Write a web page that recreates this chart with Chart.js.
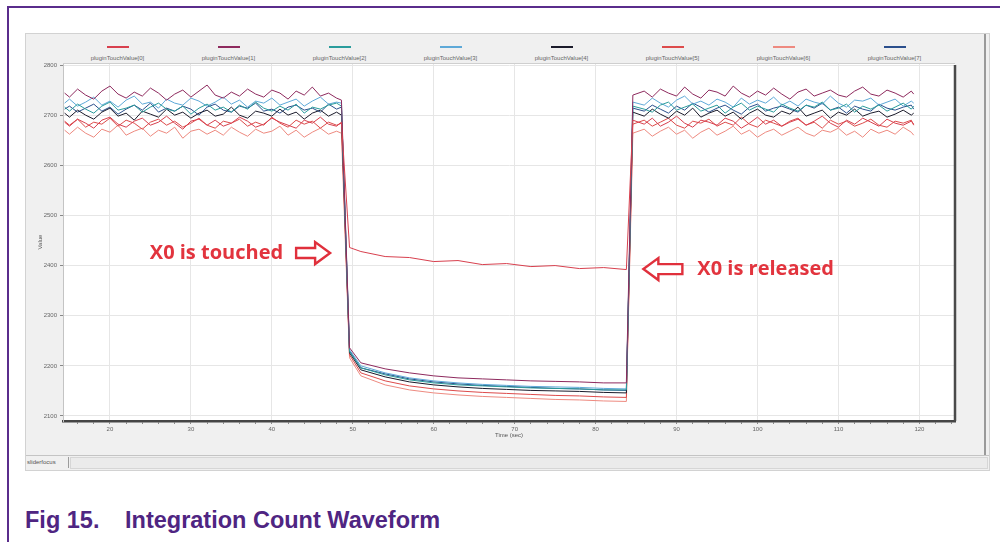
<!DOCTYPE html>
<html>
<head>
<meta charset="utf-8">
<script src="https://cdn.jsdelivr.net/npm/chart.js@4.4.1/dist/chart.umd.min.js"></script>
<style>
  html, body { margin:0; padding:0; background:#fff; width:1000px; height:542px; overflow:hidden; }
  body { position:relative; font-family:"Liberation Sans", Arial, sans-serif; }
  .frame-top  { position:absolute; left:7px; top:6px; width:993px; height:2px; background:#5a2d8c; }
  .frame-left { position:absolute; left:7px; top:6px; width:2px; height:536px; background:#5a2d8c; }
  .panel { position:absolute; left:25px; top:33px; width:963px; height:436px; background:#f0f0f0; border:1px solid #d2d2d2; }
  .panel-edge { position:absolute; left:984px; top:34px; width:2px; height:421px; background:#9a9a9a; }
  #chartBox { position:absolute; left:25px; top:33px; width:965px; height:422px; }
  .legend-item { position:absolute; top:46px; width:111px; text-align:center; font-size:6px; color:#666; }
  .legend-item i { display:block; width:22px; height:2px; margin:0 auto 7px; }
  .tabline { position:absolute; left:26px; top:455px; width:963px; height:1px; background:#c4c4c4; }
  .tab { position:absolute; left:27px; top:457px; width:41px; height:11px; font-size:6px; line-height:11px; color:#555; border-right:1px solid #9c9c9c; }
  .scrollbar { position:absolute; left:70px; top:457px; width:916px; height:10px; background:#ebebeb; border:1px solid #d6d6d6; }
  .caption { position:absolute; top:507px; font-weight:bold; font-size:23.5px; color:#4f2582; }
</style>
</head>
<body>
<div class="frame-top"></div>
<div class="frame-left"></div>
<div class="panel"></div>
<div class="panel-edge"></div>
<div id="legend"></div>
<div id="chartBox"><canvas id="waveChart"></canvas></div>
<div class="tabline"></div>
<div class="tab">sliderfocus</div>
<div class="scrollbar"></div>
<div class="caption" style="left:25px">Fig 15.</div>
<div class="caption" style="left:125px">Integration Count Waveform</div>

<script>
// ─── RAW DATA ─────────────────────────────────────────────────
const seriesNames = [
    'pluginTouchValue[0]', 'pluginTouchValue[1]', 'pluginTouchValue[2]', 'pluginTouchValue[3]',
    'pluginTouchValue[4]', 'pluginTouchValue[5]', 'pluginTouchValue[6]', 'pluginTouchValue[7]'
];
const seriesColors = ['#d8404e', '#8e2a5e', '#2a9c9c', '#5ea9d8', '#1b1b2b', '#dd4b4b', '#ee8a80', '#2b4f8c'];

// time (sec) of each sample: idle, touched, idle again
const times = [14.4, 15, 16, 17, 18, 19, 20, 21, 22, 23, 24, 25, 26, 27, 28, 29, 30, 31, 32, 33, 34, 35,
               36, 37, 38, 39, 40, 41, 42, 43, 44, 45, 46, 47, 48, 48.6,
               49.6, 51, 54, 57, 60, 63, 66, 69, 72, 75, 78, 81, 83.8,
               84.6, 86, 87, 88, 89, 90, 91, 92, 93, 94, 95, 96, 97, 98, 99, 100, 101, 102, 103, 104, 105,
               106, 107, 108, 109, 110, 111, 112, 113, 114, 115, 116, 117, 118, 119, 119.3];

const ch0 = [2686, 2678, 2692, 2684, 2674, 2690, 2696, 2682, 2676, 2688, 2694, 2680, 2686, 2698, 2684, 2672, 2688, 2692,
             2680, 2690, 2678, 2684, 2696, 2688, 2676, 2682, 2694, 2686, 2680, 2674, 2690, 2684, 2696, 2682, 2678, 2686,
             2436, 2428, 2418, 2416, 2408, 2410, 2402, 2404, 2398, 2400, 2394, 2396, 2392,
             2690, 2682, 2694, 2678, 2686, 2698, 2684, 2676, 2690, 2686, 2680, 2694, 2688, 2674, 2684, 2696, 2682, 2690,
             2678, 2686, 2692, 2680, 2688, 2698, 2684, 2676, 2690, 2682, 2694, 2686, 2678, 2692, 2684, 2680, 2688, 2682];
const ch1 = [2744, 2736, 2752, 2740, 2732, 2748, 2758, 2742, 2734, 2746, 2738, 2754, 2744, 2730, 2742, 2750, 2736, 2748,
             2760, 2740, 2734, 2746, 2738, 2752, 2742, 2736, 2750, 2744, 2732, 2748, 2740, 2756, 2738, 2744, 2734, 2730,
             2236, 2206, 2194, 2186, 2180, 2176, 2174, 2172, 2170, 2169, 2168, 2166, 2166,
             2740, 2748, 2736, 2752, 2744, 2738, 2756, 2742, 2734, 2750, 2746, 2738, 2758, 2744, 2736, 2748, 2740, 2754,
             2742, 2732, 2746, 2752, 2738, 2744, 2750, 2740, 2736, 2748, 2756, 2742, 2738, 2750, 2744, 2736, 2748, 2742];
const ch2 = [2716, 2708, 2722, 2712, 2704, 2718, 2726, 2710, 2714, 2720, 2706, 2716, 2724, 2712, 2708, 2718, 2702, 2714,
             2722, 2710, 2716, 2706, 2720, 2712, 2726, 2714, 2708, 2718, 2710, 2722, 2704, 2716, 2712, 2720, 2724, 2718,
             2228, 2196, 2182, 2172, 2166, 2162, 2160, 2158, 2156, 2155, 2154, 2152, 2152,
             2718, 2712, 2706, 2720, 2726, 2710, 2716, 2722, 2708, 2714, 2720, 2704, 2716, 2724, 2710, 2718, 2712, 2706,
             2722, 2714, 2708, 2720, 2716, 2726, 2710, 2714, 2722, 2706, 2718, 2712, 2720, 2708, 2716, 2724, 2712, 2718];
const ch3 = [2724, 2732, 2718, 2726, 2736, 2720, 2728, 2716, 2730, 2738, 2722, 2726, 2714, 2732, 2724, 2720, 2734, 2728,
             2718, 2726, 2736, 2722, 2730, 2716, 2728, 2724, 2734, 2720, 2726, 2732, 2718, 2728, 2736, 2722, 2726, 2724,
             2232, 2200, 2186, 2176, 2170, 2166, 2163, 2161, 2159, 2158, 2157, 2155, 2154,
             2726, 2720, 2734, 2724, 2716, 2730, 2738, 2722, 2728, 2720, 2732, 2726, 2716, 2734, 2722, 2730, 2724, 2736,
             2720, 2728, 2718, 2732, 2726, 2722, 2738, 2724, 2716, 2730, 2728, 2734, 2720, 2726, 2732, 2718, 2728, 2724];
const ch4 = [2704, 2696, 2710, 2700, 2692, 2706, 2714, 2698, 2704, 2690, 2708, 2702, 2696, 2712, 2700, 2706, 2694, 2704,
             2710, 2698, 2702, 2716, 2700, 2694, 2708, 2704, 2698, 2712, 2700, 2706, 2692, 2704, 2710, 2698, 2706, 2700,
             2226, 2192, 2178, 2168, 2162, 2158, 2155, 2153, 2151, 2150, 2149, 2147, 2146,
             2706, 2698, 2712, 2702, 2694, 2708, 2700, 2714, 2696, 2704, 2710, 2698, 2706, 2692, 2704, 2712, 2700, 2696,
             2708, 2702, 2716, 2698, 2704, 2710, 2694, 2706, 2700, 2712, 2698, 2704, 2708, 2696, 2702, 2710, 2700, 2704];
const ch5 = [2688, 2680, 2692, 2676, 2686, 2682, 2694, 2678, 2690, 2684, 2672, 2686, 2692, 2680, 2688, 2676, 2684, 2694,
             2680, 2674, 2688, 2684, 2692, 2678, 2686, 2680, 2696, 2684, 2676, 2690, 2682, 2688, 2674, 2686, 2680, 2684,
             2222, 2186, 2170, 2160, 2154, 2150, 2147, 2145, 2143, 2141, 2140, 2138, 2137,
             2682, 2690, 2678, 2686, 2694, 2680, 2674, 2688, 2684, 2692, 2678, 2686, 2680, 2696, 2682, 2676, 2690, 2684,
             2678, 2688, 2694, 2680, 2686, 2674, 2690, 2682, 2688, 2678, 2684, 2692, 2680, 2676, 2688, 2684, 2690, 2680];
const ch6 = [2670, 2662, 2676, 2664, 2656, 2672, 2666, 2680, 2660, 2668, 2674, 2658, 2670, 2664, 2676, 2654, 2668, 2672,
             2662, 2670, 2660, 2676, 2666, 2658, 2672, 2664, 2668, 2678, 2660, 2670, 2656, 2666, 2674, 2662, 2668, 2664,
             2216, 2180, 2162, 2152, 2146, 2142, 2139, 2137, 2135, 2133, 2132, 2130, 2129,
             2664, 2672, 2658, 2668, 2676, 2662, 2670, 2654, 2666, 2674, 2660, 2668, 2678, 2662, 2670, 2656, 2666, 2672,
             2660, 2668, 2676, 2664, 2658, 2670, 2666, 2674, 2660, 2668, 2656, 2672, 2664, 2670, 2662, 2676, 2666, 2660];
const ch7 = [2712, 2718, 2706, 2714, 2722, 2708, 2716, 2702, 2712, 2720, 2710, 2724, 2706, 2714, 2708, 2718, 2712, 2700,
             2716, 2722, 2710, 2706, 2718, 2714, 2724, 2708, 2712, 2704, 2716, 2720, 2710, 2714, 2706, 2722, 2712, 2716,
             2230, 2196, 2184, 2174, 2168, 2164, 2161, 2159, 2157, 2155, 2154, 2152, 2151,
             2714, 2708, 2720, 2712, 2704, 2718, 2710, 2724, 2716, 2706, 2714, 2720, 2710, 2702, 2716, 2722, 2708, 2714,
             2718, 2712, 2706, 2720, 2714, 2724, 2710, 2716, 2704, 2718, 2712, 2708, 2722, 2714, 2710, 2716, 2720, 2712];
const channels = [ch0, ch1, ch2, ch3, ch4, ch5, ch6, ch7];

const yTicks = [2100, 2200, 2300, 2400, 2500, 2600, 2700, 2800];

// annotations: text, arrow tip (time, value)
const noteText  = ['X0 is touched', 'X0 is released'];
const noteTime  = [47.2, 85.9];
const noteValue = [2425, 2393];

// ─── LEGEND (html, line above label) ─────────────────────────
const legendBox = document.getElementById('legend');
seriesNames.forEach((name, i) => {
    const d = document.createElement('div');
    d.className = 'legend-item';
    d.style.left = (62 + i * 111) + 'px';
    d.innerHTML = `<i style="background:${seriesColors[i]}"></i>${name}`;
    legendBox.appendChild(d);
});

// ─── PLOT FRAME + NOTES ───────────────────────────────────────
function drawBlockArrow(ctx, xTail, xTip, yc) {
    const dir = xTip > xTail ? 1 : -1;
    const neck = xTip - dir * 15;
    ctx.beginPath();
    ctx.moveTo(xTail, yc - 5);
    ctx.lineTo(neck, yc - 5);
    ctx.lineTo(neck, yc - 11);
    ctx.lineTo(xTip, yc);
    ctx.lineTo(neck, yc + 11);
    ctx.lineTo(neck, yc + 5);
    ctx.lineTo(xTail, yc + 5);
    ctx.closePath();
    ctx.fillStyle = '#fff';
    ctx.fill();
    ctx.lineWidth = 2.4;
    ctx.strokeStyle = '#e0303c';
    ctx.stroke();
}

const framePlugin = {
    id: 'frame',
    beforeDraw(chart) {
        const { ctx, chartArea: a } = chart;
        ctx.save();
        ctx.fillStyle = '#fff';
        ctx.fillRect(a.left, a.top, a.right - a.left, a.bottom - a.top);
        ctx.restore();
    },
    afterDatasetsDraw(chart) {
        const { ctx, chartArea: a, scales } = chart;
        ctx.save();
        ctx.strokeStyle = '#cfcfcf';
        ctx.lineWidth = 1;
        ctx.beginPath();
        ctx.moveTo(a.left, a.top + 0.5);
        ctx.lineTo(a.right, a.top + 0.5);
        ctx.stroke();
        ctx.strokeStyle = '#4a4a4a';
        ctx.lineWidth = 2.5;
        ctx.beginPath();
        ctx.moveTo(a.right, a.top + 2);
        ctx.lineTo(a.right, a.bottom);
        ctx.stroke();

        ctx.font = 'bold 20px "Open Sans", sans-serif';
        ctx.textBaseline = 'middle';
        // touched: text left of a right-pointing arrow
        let tx = scales.x.getPixelForValue(noteTime[0]);
        let ty = scales.y.getPixelForValue(noteValue[0]);
        drawBlockArrow(ctx, tx - 34, tx, ty);
        ctx.fillStyle = '#e2343e';
        ctx.textAlign = 'right';
        ctx.fillText(noteText[0], tx - 47, ty);
        // released: left-pointing arrow, text to its right
        tx = scales.x.getPixelForValue(noteTime[1]);
        ty = scales.y.getPixelForValue(noteValue[1]);
        drawBlockArrow(ctx, tx + 39, tx, ty);
        ctx.fillStyle = '#e2343e';
        ctx.textAlign = 'left';
        ctx.fillText(noteText[1], tx + 54, ty);
        ctx.restore();
    }
};

// ─── CHART ────────────────────────────────────────────────────
new Chart(document.getElementById('waveChart'), {
    type: 'line',
    data: {
        datasets: channels.map((vals, i) => ({
            label: seriesNames[i],
            data: times.map((t, k) => ({ x: t, y: vals[k] })),
            borderColor: seriesColors[i],
            borderWidth: 1,
            pointRadius: 0,
            tension: 0,
            fill: false
        }))
    },
    options: {
        responsive: true,
        maintainAspectRatio: false,
        animation: false,
        events: [],
        layout: { padding: { left: 10, right: 35, top: 30, bottom: 12 } },
        plugins: { legend: { display: false }, tooltip: { enabled: false } },
        scales: {
            x: {
                type: 'linear',
                min: 14.2,
                max: 124.4,
                afterBuildTicks: scale => {
                    const ticks = [];
                    for (let v = 16; v <= 124; v += 2) ticks.push({ value: v });
                    scale.ticks = ticks;
                },
                afterFit: scale => { scale.height = 22; },
                ticks: {
                    autoSkip: false,
                    maxRotation: 0,
                    padding: 2,
                    color: '#666',
                    font: { size: 6 },
                    callback: v => (v % 10 === 0 ? String(v) : '')
                },
                grid: {
                    color: c => (c.tick && c.tick.value % 10 === 0 ? '#e6e6e6' : 'transparent'),
                    tickColor: '#888',
                    tickLength: 3
                },
                border: { color: '#454545', width: 2.5 },
                title: { display: true, text: 'Time (sec)', color: '#555', font: { size: 6 }, padding: { top: 2, bottom: 4 } }
            },
            y: {
                min: 2090,
                max: 2804,
                afterBuildTicks: scale => { scale.ticks = yTicks.map(v => ({ value: v })); },
                afterFit: scale => { scale.width = 28; },
                ticks: { color: '#666', font: { size: 6 }, padding: 3, callback: v => String(v) },
                grid: { color: '#e6e6e6', tickColor: '#888', tickLength: 3 },
                border: { color: '#c4c4c4', width: 1 },
                title: { display: true, text: 'Value', color: '#555', font: { size: 6 }, padding: 2 }
            }
        }
    },
    plugins: [framePlugin]
});
</script>
</body>
</html>
